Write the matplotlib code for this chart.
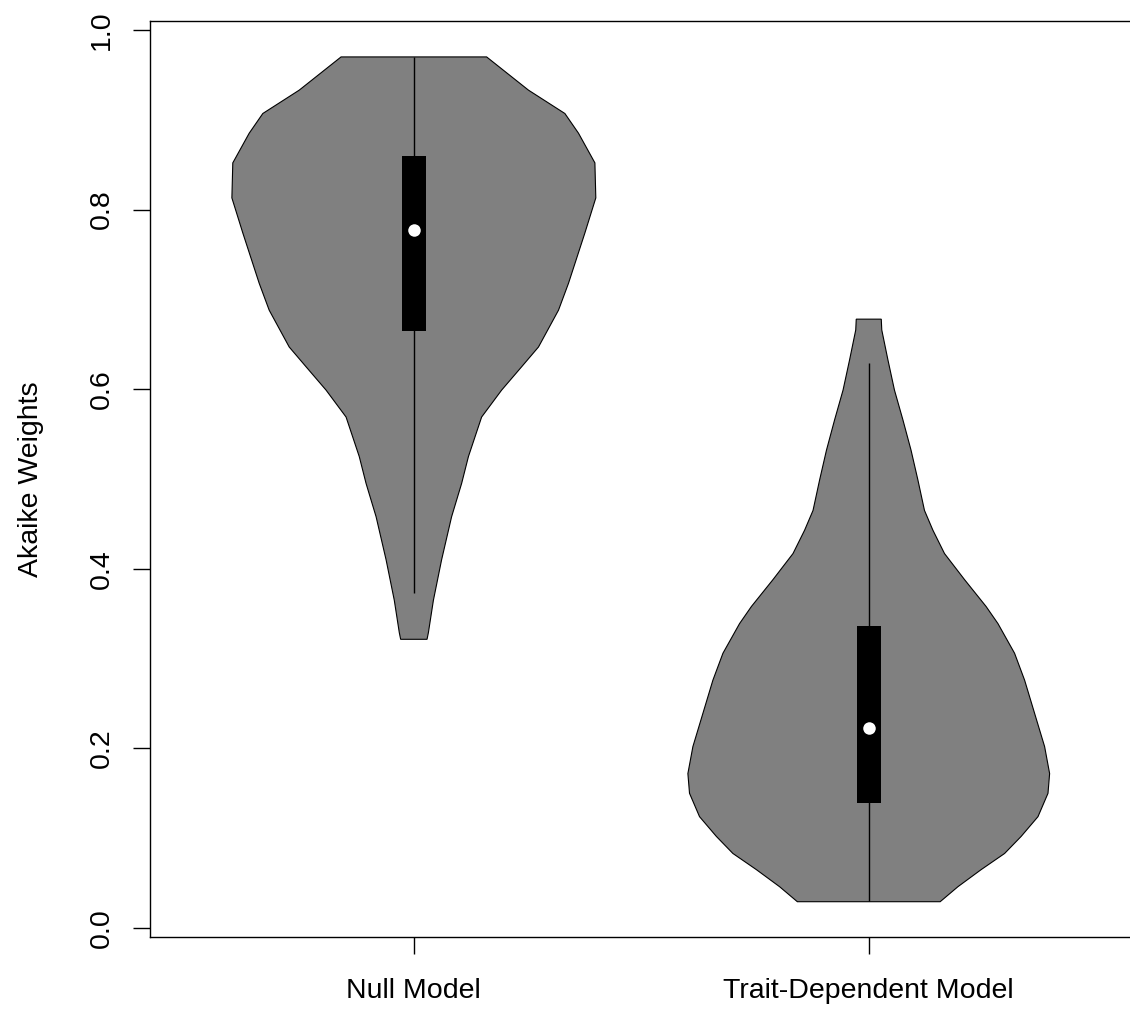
import numpy as np
import matplotlib
matplotlib.use("Agg")
import matplotlib.pyplot as plt

plt.rcParams['font.family'] = ['Liberation Sans', 'DejaVu Sans']

groups = ['Null Model', 'Trait-Dependent Model']
positions = [1, 2]

# violin outlines: y value and half width of the density
null_y = [0.970, 0.933, 0.907, 0.885, 0.852, 0.813, 0.774, 0.718, 0.688,
          0.647, 0.625, 0.599, 0.569, 0.525, 0.495, 0.458, 0.410, 0.365,
          0.329, 0.3215]
null_hw = [0.160, 0.252, 0.332, 0.362, 0.398, 0.400, 0.376, 0.340, 0.318,
           0.274, 0.237, 0.193, 0.149, 0.120, 0.105, 0.083, 0.061, 0.043,
           0.032, 0.029]

trait_y = [0.678, 0.666, 0.633, 0.599, 0.566, 0.532, 0.499, 0.465, 0.443,
           0.417, 0.388, 0.358, 0.339, 0.306, 0.276, 0.239, 0.202, 0.172,
           0.150, 0.124, 0.102, 0.083, 0.065, 0.046, 0.0293]
trait_hw = [0.0275, 0.0286, 0.042, 0.0565, 0.075, 0.093, 0.108, 0.1225, 0.141,
            0.1665, 0.2105, 0.258, 0.284, 0.3205, 0.3426, 0.3646, 0.3866,
            0.3976, 0.394, 0.372, 0.335, 0.2986, 0.247, 0.196, 0.157]

# box plot summaries
whisker_lo = [0.373, 0.030]
whisker_hi = [0.970, 0.6295]
q1 = [0.665, 0.1396]
q3 = [0.860, 0.3367]
medians = [0.777, 0.223]

fig = plt.figure(figsize=(11.3, 10.09), dpi=100)
ax = fig.add_axes([150 / 1130, 72 / 1009, 982.6 / 1130, 916 / 1009])

outlines = [(null_y, null_hw), (trait_y, trait_hw)]
for i, (yy, hw) in enumerate(outlines):
    c = positions[i]
    yy = np.array(yy)
    hw = np.array(hw)
    xs = np.concatenate([c - hw, (c + hw)[::-1]])
    ys = np.concatenate([yy, yy[::-1]])
    ax.fill(xs, ys, facecolor='#808080', edgecolor='black', linewidth=0.8,
            zorder=2)
    ax.vlines(c, whisker_lo[i], whisker_hi[i], color='black', linewidth=1.0,
              zorder=3)
    ax.bar(c, q3[i] - q1[i], bottom=q1[i], width=0.053, color='black',
           zorder=4)
    ax.plot(c, medians[i], 'o', color='white', markersize=9,
            markeredgewidth=0, zorder=5)

ax.set_xlim(0.42, 2.58)
ax.set_ylim(-0.010, 1.010)

ax.set_xticks(positions)
ax.set_xticklabels(groups, fontsize=20.5)
yt = [0.0, 0.2, 0.4, 0.6, 0.8, 1.0]
ax.set_yticks(yt)
ax.set_yticklabels(['%.1f' % v for v in yt], fontsize=20.5, rotation=90,
                   va='center')
ax.tick_params(axis='both', direction='out', length=12.5, width=1.0,
               color='black')
ax.tick_params(axis='x', pad=17)
ax.tick_params(axis='y', pad=13)

for s in ax.spines.values():
    s.set_linewidth(1.0)
    s.set_color('black')
# the box's right side falls just past the edge of the picture
ax.spines['right'].set_visible(False)

ax.set_ylabel('Akaike Weights', fontsize=20.5)
ax.yaxis.set_label_coords(-0.108, 0.5)

fig.savefig('out.png', dpi=100)
